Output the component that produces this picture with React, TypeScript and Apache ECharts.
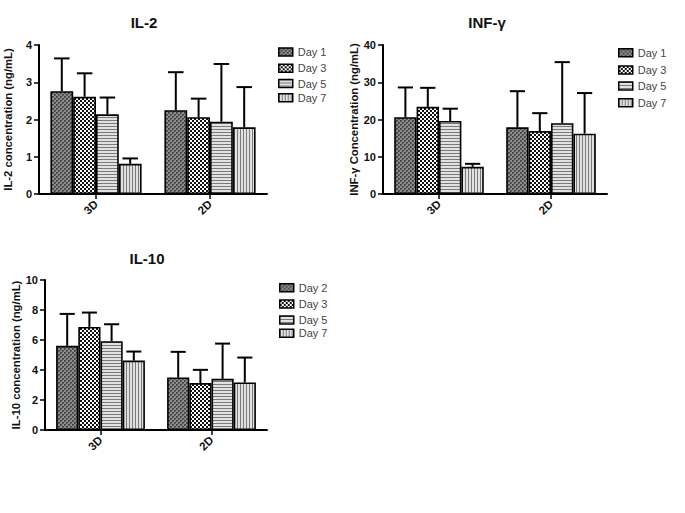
import React, { useEffect, useRef } from 'react';
import * as echarts from 'echarts';

const categories = ['3D', '2D'];

const il2Names = ['Day 1', 'Day 3', 'Day 5', 'Day 7'];
const il2Means = [[2.76, 2.25], [2.61, 2.06], [2.14, 1.94], [0.81, 1.79]];
const il2Upper = [[3.64, 3.27], [3.24, 2.56], [2.59, 3.49], [0.955, 2.87]];

const infNames = ['Day 1', 'Day 3', 'Day 5', 'Day 7'];
const infMeans = [[20.6, 17.9], [23.4, 16.9], [19.6, 19.0], [7.3, 16.2]];
const infUpper = [[28.6, 27.6], [28.5, 21.7], [22.9, 35.4], [8.1, 27.1]];

const il10Names = ['Day 2', 'Day 3', 'Day 5', 'Day 7'];
const il10Means = [[5.61, 3.5], [6.87, 3.13], [5.92, 3.41], [4.63, 3.17]];
const il10Upper = [[7.74, 5.21], [7.83, 4.01], [7.05, 5.76], [5.23, 4.83]];

const FONT = 'Liberation Sans, Arial, sans-serif';

function makePattern(kind: number) {
  const c = document.createElement('canvas');
  const ctx = c.getContext('2d') as CanvasRenderingContext2D;
  if (kind === 0) {
    c.width = 4; c.height = 4;
    ctx.fillStyle = '#8c8c8c'; ctx.fillRect(0, 0, 4, 4);
    ctx.fillStyle = '#474747';
    ctx.fillRect(0, 0, 2, 2); ctx.fillRect(2, 2, 2, 2);
    ctx.fillStyle = '#6a6a6a';
    ctx.fillRect(1, 1, 1, 1); ctx.fillRect(3, 3, 1, 1);
  } else if (kind === 1) {
    c.width = 4; c.height = 4;
    ctx.fillStyle = '#ffffff'; ctx.fillRect(0, 0, 4, 4);
    ctx.fillStyle = '#111111';
    ctx.fillRect(0, 0, 2, 2); ctx.fillRect(2, 2, 2, 2);
  } else if (kind === 2) {
    c.width = 3; c.height = 3;
    ctx.fillStyle = '#e2e2e2'; ctx.fillRect(0, 0, 3, 3);
    ctx.fillStyle = '#7a7a7a'; ctx.fillRect(0, 0, 3, 1);
  } else {
    c.width = 3; c.height = 3;
    ctx.fillStyle = '#e2e2e2'; ctx.fillRect(0, 0, 3, 3);
    ctx.fillStyle = '#7a7a7a'; ctx.fillRect(0, 0, 1, 3);
  }
  return { image: c, repeat: 'repeat' } as any;
}

export default function App() {
  const ref = useRef<HTMLDivElement>(null);
  useEffect(() => {
    if (!ref.current) return;
    const chart = echarts.init(ref.current, undefined, { renderer: 'svg' });
    const patterns = [0, 1, 2, 3].map(makePattern);

    const grids = [
      { left: 39, right: 418, top: 45, bottom: 319 },
      { left: 383, right: 78, top: 45, bottom: 319 },
      { left: 45, right: 418, top: 280, bottom: 83 },
    ];
    const yCfg = [
      { max: 4, interval: 1, name: 'IL-2 concentration (ng/mL)', gap: 26 },
      { max: 40, interval: 10, name: 'INF-γ Concentration (ng/mL)', gap: 18 },
      { max: 10, interval: 2, name: 'IL-10 concentration (ng/mL)', gap: 20 },
    ];
    const sets = [
      { names: il2Names, means: il2Means, upper: il2Upper },
      { names: infNames, means: infMeans, upper: infUpper },
      { names: il10Names, means: il10Means, upper: il10Upper },
    ];
    const legendLeft = [278, 618, 279];
    const legendRows = [
      [52, 68.3, 83.5, 97.7],
      [52.7, 70, 86, 102.7],
      [287.7, 304, 320, 333.3],
    ];

    const series: any[] = [];
    const legends: any[] = [];
    sets.forEach((set, g) => {
      set.names.forEach((name, s) => {
        series.push({
          type: 'bar', name, xAxisIndex: g, yAxisIndex: g,
          data: set.means[s], barGap: '0%', barCategoryGap: '20%',
          itemStyle: { color: patterns[s], borderColor: '#000', borderWidth: 1.6 },
          silent: true,
        });
        legends.push({
          data: [name], orient: 'vertical', left: legendLeft[g], top: legendRows[g][s] - 5.5,
          padding: 0, itemWidth: 14, itemHeight: 8, icon: 'rect', selectedMode: false,
          itemStyle: { borderColor: '#000', borderWidth: 1.5 },
          textStyle: { fontFamily: FONT, fontSize: 11, color: '#444' },
        });
      });
      const data: number[][] = [];
      set.means.forEach((arr, s) => arr.forEach((v, c) => data.push([c, s, v, set.upper[s][c]])));
      series.push({
        type: 'custom', xAxisIndex: g, yAxisIndex: g, z: 5, silent: true,
        encode: { x: 0, y: 3 }, data,
        renderItem: (params: any, api: any) => {
          const c = api.value(0), s = api.value(1), v = api.value(2), u = api.value(3);
          const base = api.coord([c, v]);
          const top = api.coord([c, u]);
          const catW = api.size([1, 0])[0];
          const bw = (catW * 0.8) / 4;
          const x = base[0] + (s - 1.5) * bw;
          const cap = bw * 0.34;
          return {
            type: 'group',
            children: [
              { type: 'line', shape: { x1: x, y1: base[1], x2: x, y2: top[1] }, style: { stroke: '#000', lineWidth: 2 } },
              { type: 'line', shape: { x1: x - cap, y1: top[1], x2: x + cap, y2: top[1] }, style: { stroke: '#000', lineWidth: 2 } },
            ],
          };
        },
      });
    });

    const axisLine = { show: true, lineStyle: { color: '#000', width: 2 } };
    const option: any = {
      animation: false,
      grid: grids,
      legend: legends,
      xAxis: grids.map((_, g) => ({
        type: 'category', gridIndex: g, data: categories,
        axisLine,
        axisTick: { show: true, alignWithLabel: true, length: 5, lineStyle: { color: '#000', width: 1.5 } },
        axisLabel: { rotate: 45, margin: 8, color: '#111', fontWeight: 'bold', fontSize: 11.5, fontFamily: FONT },
      })),
      yAxis: yCfg.map((y, g) => ({
        type: 'value', gridIndex: g, min: 0, max: y.max, interval: y.interval,
        name: y.name, nameLocation: 'middle', nameGap: y.gap,
        nameTextStyle: { color: '#111', fontWeight: 'bold', fontSize: 11.3, fontFamily: FONT },
        axisLine,
        axisTick: { show: true, length: 5, lineStyle: { color: '#000', width: 1.5 } },
        axisLabel: { margin: 7, color: '#111', fontWeight: 'bold', fontSize: 11, fontFamily: FONT },
        splitLine: { show: false },
      })),
      graphic: [
        { type: 'text', x: 144, y: 22, style: { text: 'IL-2', align: 'center', verticalAlign: 'middle', fontFamily: FONT, fontWeight: 'bold', fontSize: 15, fill: '#111' } },
        { type: 'text', x: 487, y: 22, style: { text: 'INF-γ', align: 'center', verticalAlign: 'middle', fontFamily: FONT, fontWeight: 'bold', fontSize: 15, fill: '#111' } },
        { type: 'text', x: 147, y: 258, style: { text: 'IL-10', align: 'center', verticalAlign: 'middle', fontFamily: FONT, fontWeight: 'bold', fontSize: 15, fill: '#111' } },
      ],
      series,
    };
    chart.setOption(option);
    return () => chart.dispose();
  }, []);
  return <div ref={ref} style={{ position: 'absolute', left: 0, top: 0, width: 685, height: 513, background: '#fff' }} />;
}
